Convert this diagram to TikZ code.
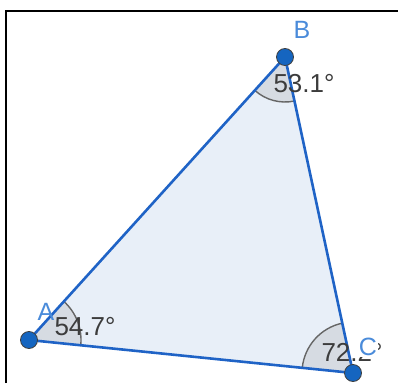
\documentclass[tikz,border=0pt]{standalone}
\usepackage{fontspec}
\setmainfont{Liberation Sans}
\usetikzlibrary{angles}
\definecolor{edgeblue}{HTML}{1F63C6}
\definecolor{dotblue}{HTML}{1565C0}
\definecolor{labelblue}{HTML}{4A8BDA}
\definecolor{trifill}{HTML}{E8EFF8}
\definecolor{sectfill}{HTML}{D6DBE2}
\definecolor{angtext}{HTML}{3C3C3C}
\tikzset{
  edge/.style={draw=edgeblue, line width=2.6pt},
  vdot/.style={circle, fill=dotblue, draw=black!75, line width=0.8pt, minimum size=17pt, inner sep=0pt},
  vlabel/.style={text=labelblue, font=\fontsize{25}{25}\selectfont, inner sep=0pt},
  anglabel/.style={text=angtext, font=\fontsize{26}{26}\selectfont, inner sep=0pt},
  sector/.style={draw=black!60, line width=1.4pt, fill=sectfill},
  frameline/.style={draw=black, line width=2pt}
}
\begin{document}
\begin{tikzpicture}[x=1pt,y=1pt]
\useasboundingbox (0,0) rectangle (398,383);
\coordinate (fTL) at (6,372);
\coordinate (fTR) at (398,372);
\coordinate (fBL) at (6,0);
\draw[frameline] (fBL) -- (fTL) -- (fTR);
\coordinate (A) at (29,43);
\coordinate (B) at (285,326);
\coordinate (C) at (353,10);
\fill[trifill] (A) -- (B) -- (C) -- cycle;
\pic[sector, angle radius=52pt] {angle=C--A--B};
\pic[sector, angle radius=45pt] {angle=A--B--C};
\pic[sector, angle radius=51pt] {angle=B--C--A};
\draw[edge] (A) -- (B) -- (C) -- cycle;
\node[vdot] (dA) at (A) {};
\node[vdot] (dB) at (B) {};
\node[vdot] (dC) at (C) {};
\node[anglabel] (tA) at (85,56) {54.7°};
\node[anglabel] (tB) at (304,299) {53.1°};
\node[anglabel] (tC) at (352,31) {72.2°};
\node[vlabel] (lA) at (46,71) {A};
\node[vlabel] (lB) at (302,353) {B};
\node[vlabel, fill=white, inner sep=1pt] (lC) at (368,36) {C};
\end{tikzpicture}
\end{document}
